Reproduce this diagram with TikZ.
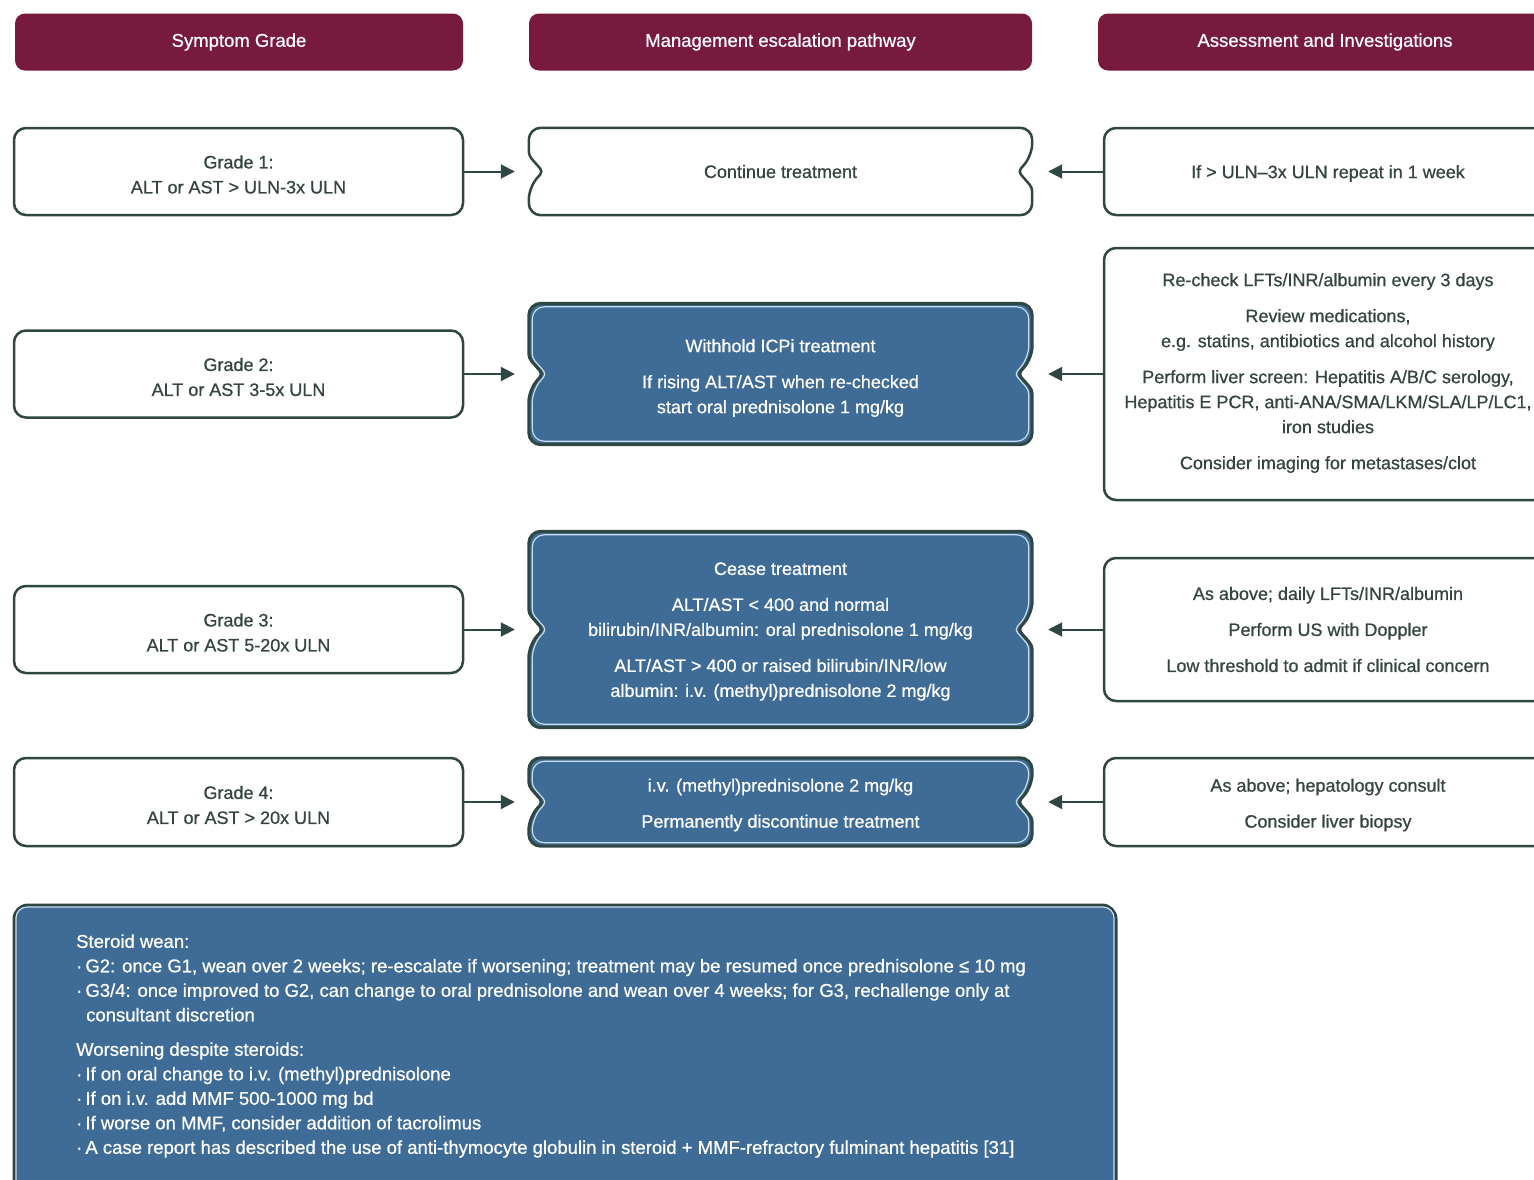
\documentclass[tikz,border=0pt]{standalone}
\usepackage{fontspec}
\setmainfont{Liberation Sans}[FakeStretch=1.0,FakeBold=0.7]
\usetikzlibrary{arrows.meta,calc}
\definecolor{maroon}{HTML}{781A3E}
\definecolor{bluef}{HTML}{3F6C96}
\definecolor{bdr}{HTML}{2E4742}
\definecolor{txt}{HTML}{34453F}
\definecolor{lightln}{HTML}{C9DCEA}
\newcommand\mshape[3]{%
 \draw[#2] ($(#1.north)+(0,#3)$) [rounded corners=12pt] -- ($(#1.north east)+(-#3,#3)$) -- ($(#1.east)+(-#3,-16)$) [rounded corners=4pt] -- ($(#1.east)+(-14-#3,0)$) -- ($(#1.east)+(-#3,16)$) [rounded corners=12pt] -- ($(#1.south east)+(-#3,-#3)$) -- ($(#1.south west)+(#3,-#3)$) -- ($(#1.west)+(#3,16)$) [rounded corners=4pt] -- ($(#1.west)+(14+#3,0)$) -- ($(#1.west)+(#3,-16)$) [rounded corners=12pt] -- ($(#1.north west)+(#3,#3)$) -- cycle;}
\tikzset{
 hdr/.style={fill=maroon, rounded corners=10pt, text=white, minimum height=57pt, inner sep=0pt, font=\fontsize{18.5}{25}\selectfont},
 wbox/.style={draw=bdr, line width=2.5pt, rounded corners=12pt, fill=white, inner sep=0pt},
 mbox/.style={inner sep=0pt, minimum width=503pt},
 btxt/.style={text=white, align=center},
 wtxt/.style={text=txt, align=center},
 arr/.style={draw=bdr, line width=2pt, -{Triangle[length=14pt,width=14pt]}},
 blueout/.style={draw=bdr, line width=3pt, fill=bluef},
 bluein/.style={draw=lightln, line width=1.2pt},
}
\begin{document}
\begin{tikzpicture}[x=1pt,y=-1pt,font=\fontsize{18}{25}\selectfont]
\useasboundingbox (0,0) rectangle (1534,1179);
\clip (0,0) rectangle (1534,1179);
% headers
\node[hdr, minimum width=448pt] (h1) at (239,42) {Symptom Grade};
\node[hdr, minimum width=503pt] (h2) at (780.5,42) {Management escalation pathway};
\node[hdr, minimum width=454pt] (h3) at (1325,42) {Assessment and Investigations};
% row 1
\node[wbox, minimum width=449pt, minimum height=87pt] (g1) at (238.5,171.5) {};
\node[wtxt, yshift=-3pt] (g1t) at (g1.center) {Grade 1:\\ALT or AST > ULN-3x ULN};
\node[mbox, minimum height=87pt] (m1) at (780.5,171.5) {};
\mshape{m1}{draw=bdr, line width=2.5pt, fill=white}{0}
\node[wtxt] (m1t) at (m1.center) {Continue treatment};
\node[wbox, minimum width=448pt, minimum height=87pt] (a1) at (1328,171.5) {};
\node[wtxt, yshift=-2pt] (a1t) at (a1.center) {If > ULN–3x ULN repeat in 1 week};
\draw[arr] (g1.east) -- ([xshift=-14pt]m1.west);
\draw[arr] (a1.west) -- ([xshift=16pt]m1.east);
% row 2
\node[wbox, minimum width=449pt, minimum height=87pt] (g2) at (238.5,374) {};
\node[wtxt, yshift=-3pt] (g2t) at (g2.center) {Grade 2:\\ALT or AST 3-5x ULN};
\node[mbox, minimum height=141pt] (m2) at (780.5,374) {};
\mshape{m2}{blueout}{0}
\mshape{m2}{bluein}{3.5}
\node[btxt, yshift=-4pt] (m2t) at (m2.center) {Withhold ICPi treatment\\[11pt]If rising ALT/AST when re-checked\\start oral prednisolone 1 mg/kg};
\node[wbox, minimum width=448pt, minimum height=252pt] (a2) at (1328,374) {};
\node[wtxt, yshift=1pt] (a2t) at (a2.center) {Re-check LFTs/INR/albumin every 3 days\\[11pt]Review medications,\\e.g. statins, antibiotics and alcohol history\\[11pt]Perform liver screen: Hepatitis A/B/C serology,\\Hepatitis E PCR, anti-ANA/SMA/LKM/SLA/LP/LC1,\\iron studies\\[11pt]Consider imaging for metastases/clot};
\draw[arr] (g2.east) -- ([xshift=-14pt]m2.west);
\draw[arr] (a2.west) -- ([xshift=16pt]m2.east);
% row 3
\node[wbox, minimum width=449pt, minimum height=87pt] (g3) at (238.5,629.5) {};
\node[wtxt, yshift=-3pt] (g3t) at (g3.center) {Grade 3:\\ALT or AST 5-20x ULN};
\node[mbox, minimum height=196pt] (m3) at (780.5,629.5) {};
\mshape{m3}{blueout}{0}
\mshape{m3}{bluein}{3.5}
\node[btxt, yshift=-2pt] (m3t) at (m3.center) {Cease treatment\\[11pt]ALT/AST < 400 and normal\\bilirubin/INR/albumin: oral prednisolone 1 mg/kg\\[11pt]ALT/AST > 400 or raised bilirubin/INR/low\\albumin: i.v. (methyl)prednisolone 2 mg/kg};
\node[wbox, minimum width=448pt, minimum height=143pt] (a3) at (1328,629.5) {};
\node[wtxt] (a3t) at (a3.center) {As above; daily LFTs/INR/albumin\\[11pt]Perform US with Doppler\\[11pt]Low threshold to admit if clinical concern};
\draw[arr] (g3.east) -- ([xshift=-14pt]m3.west);
\draw[arr] (a3.west) -- ([xshift=16pt]m3.east);
% row 4
\node[wbox, minimum width=449pt, minimum height=88pt] (g4) at (238.5,802) {};
\node[wtxt, yshift=-3pt] (g4t) at (g4.center) {Grade 4:\\ALT or AST > 20x ULN};
\node[mbox, minimum height=88pt] (m4) at (780.5,802) {};
\mshape{m4}{blueout}{0}
\mshape{m4}{bluein}{3.5}
\node[btxt, yshift=-3pt] (m4t) at (m4.center) {i.v. (methyl)prednisolone 2 mg/kg\\[11pt]Permanently discontinue treatment};
\node[wbox, minimum width=448pt, minimum height=88pt] (a4) at (1328,802) {};
\node[wtxt, yshift=-3pt] (a4t) at (a4.center) {As above; hepatology consult\\[11pt]Consider liver biopsy};
\draw[arr] (g4.east) -- ([xshift=-14pt]m4.west);
\draw[arr] (a4.west) -- ([xshift=16pt]m4.east);
% bottom
\node[blueout, rounded corners=14pt, minimum width=1102pt, minimum height=300pt, inner sep=0pt] (sw) at (565,1055) {};
\draw[bluein, rounded corners=11pt] ($(sw.north west)+(3.5,3.5)$) rectangle ($(sw.south east)+(-3.5,-3.5)$);
\node[text=white, align=left, anchor=west, inner sep=0pt, font=\fontsize{18.5}{24.5}\selectfont] (swt) at (76,1046) {Steroid wean:\\
·\,G2: once G1, wean over 2 weeks; re-escalate if worsening; treatment may be resumed once prednisolone ≤ 10 mg\\
·\,G3/4: once improved to G2, can change to oral prednisolone and wean over 4 weeks; for G3, rechallenge only at\\
\hspace*{10pt}consultant discretion\\[10pt]
Worsening despite steroids:\\
·\,If on oral change to i.v. (methyl)prednisolone\\
·\,If on i.v. add MMF 500-1000 mg bd\\
·\,If worse on MMF, consider addition of tacrolimus\\
·\,A case report has described the use of anti-thymocyte globulin in steroid + MMF-refractory fulminant hepatitis [31]};
\end{tikzpicture}
\end{document}
